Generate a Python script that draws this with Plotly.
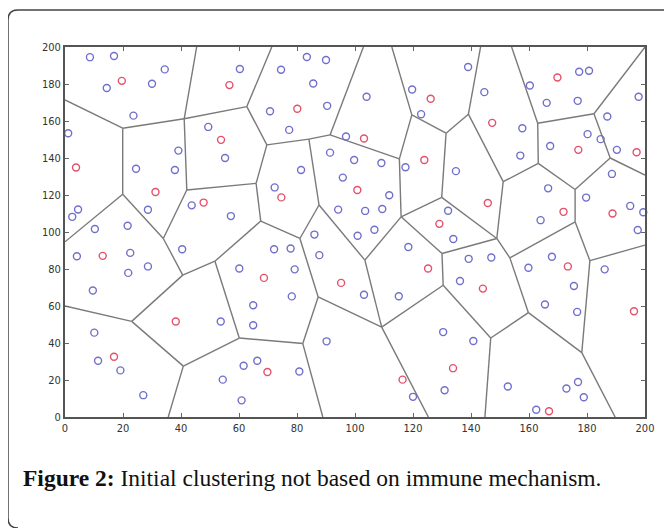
import plotly.graph_objects as go

# ---- data: cluster members (blue) and cluster centres (red) ----
blue_x = [8.6, 16.9, 34.4, 14.4, 30.0, 23.6, 1.1, 39.1, 24.5, 37.9, 4.5, 2.5, 10.3, 21.6, 28.6,
          49.4, 55.2, 43.7, 57.2, 60.3, 74.5, 83.4, 90.0, 85.6, 90.4, 70.7, 77.3, 104.0, 96.9,
          119.7, 122.8, 91.4, 99.7, 109.1, 117.4, 81.4, 72.3, 95.8, 111.8, 94.2, 103.5, 109.4,
          132.1, 86.0, 100.9, 106.7, 139.0, 144.6, 160.3, 166.1, 177.3, 180.7, 176.8, 197.8,
          187.0, 180.2, 184.7, 190.3, 157.7, 157.0, 167.3, 188.6, 166.6, 179.7, 134.8, 164.0,
          194.9, 199.4, 197.5, 4.1, 22.5, 28.6, 21.8, 9.6, 40.4, 60.1, 10.1, 11.4, 19.1, 27.0,
          53.7, 54.4, 61.6, 60.9, 72.1, 77.8, 87.7, 79.2, 78.2, 64.9, 64.9, 103.1, 115.1, 118.4,
          90.2, 66.3, 80.8, 130.4, 130.9, 120.0, 133.9, 139.2, 147.0, 136.2, 159.8, 167.9, 175.5,
          176.6, 165.5, 186.1, 140.8, 152.7, 172.9, 176.9, 178.9, 162.5]
blue_y = [194.5, 195.1, 187.9, 177.8, 180.1, 162.9, 153.4, 144.0, 134.2, 133.5, 112.2, 108.2,
          101.6, 103.4, 112.0, 156.8, 140.0, 114.4, 108.6, 188.1, 187.7, 194.6, 193.0, 180.3,
          168.2, 165.3, 155.2, 173.1, 151.6, 177.0, 163.7, 142.9, 138.9, 137.3, 135.0, 133.5,
          124.1, 129.4, 119.9, 112.1, 111.4, 112.4, 111.5, 98.6, 98.0, 101.2, 189.2, 175.6,
          179.2, 169.8, 186.6, 187.2, 170.9, 173.1, 162.4, 152.9, 150.2, 144.4, 156.1, 141.3,
          146.5, 131.4, 123.6, 118.6, 132.9, 106.4, 114.1, 110.7, 101.1, 86.9, 88.7, 81.4, 77.9,
          68.4, 90.7, 80.3, 45.6, 30.4, 25.2, 11.8, 51.6, 20.2, 27.7, 9.0, 90.7, 91.1, 87.5,
          79.8, 65.2, 60.4, 49.6, 66.1, 65.3, 91.9, 40.9, 30.4, 24.6, 45.9, 14.5, 10.9, 96.2,
          85.5, 86.2, 73.5, 80.7, 86.6, 70.8, 56.8, 60.8, 79.8, 41.1, 16.5, 15.4, 18.9, 10.7, 3.9]

red_x = [19.6, 3.8, 31.2, 47.8, 53.8, 56.7, 80.1, 103.1, 123.9, 100.8, 74.6, 126.1, 129.1, 169.8,
         147.3, 177.0, 197.1, 145.8, 171.9, 188.8, 13.0, 38.2, 16.9, 68.6, 95.2, 125.2, 69.8,
         116.4, 144.1, 173.4, 196.2, 133.8, 166.9]
red_y = [181.7, 134.9, 121.6, 115.9, 149.8, 179.4, 166.6, 150.5, 138.9, 122.7, 118.7, 172.0,
         104.4, 183.5, 159.0, 144.4, 143.1, 115.7, 110.9, 110.0, 87.1, 51.6, 32.6, 75.2, 72.5,
         80.3, 24.3, 20.2, 69.4, 81.4, 57.2, 26.4, 3.1]

# ---- data: Voronoi cell vertices and edges ----
vertex_x = [0, 19.9, 19.9, 41.1, 45.4, 42.0, 33.9, 40.6, 51.7, 60.1, 23.0, 40.8, 0, 0, 35.6,
            62.7, 71.3, 69.6, 65.9, 67.5, 91.4, 102.9, 84.1, 115.3, 87.6, 119.6, 112.7, 115.9,
            81.0, 103.4, 130.0, 87.3, 82.0, 88.9, 109.2, 125.3, 130.4, 131.4, 129.9, 139.1,
            143.3, 151.1, 163.2, 163.0, 154.0, 182.4, 200, 188.0, 200, 175.9, 175.9, 148.9,
            153.4, 181.0, 200, 159.8, 146.8, 144.8, 178.2, 189.7]
vertex_y = [171.4, 156.1, 120.4, 161.2, 200, 122.7, 96.5, 76.7, 84.2, 42.7, 51.7, 27.5, 94.7,
            60.0, 0, 167.8, 200, 147.1, 126.3, 105.9, 152.5, 200, 150.2, 139.5, 114.6, 163.3,
            200, 108.2, 96.5, 84.8, 88.4, 64.9, 39.7, 0, 48.6, 0, 71.2, 153.4, 118.7, 163.7,
            200, 127.2, 137.1, 158.8, 200, 163.9, 200, 140.0, 130.8, 123.0, 105.5, 96.5, 86.0,
            84.5, 92.9, 56.4, 42.7, 0, 34.8, 0]
edges = [(0, 1), (1, 2), (1, 3), (3, 4), (3, 5), (3, 15), (15, 16), (15, 17), (2, 12), (2, 6),
         (5, 6), (5, 18), (6, 7), (7, 8), (7, 10), (10, 13), (10, 11), (11, 14), (11, 9), (9, 8),
         (9, 32), (8, 19), (19, 18), (19, 28), (28, 24), (28, 31), (24, 22), (24, 29), (29, 27),
         (29, 34), (31, 32), (31, 34), (32, 33), (34, 35), (34, 36), (36, 30), (36, 56), (30, 27),
         (30, 51), (27, 23), (27, 38), (23, 20), (23, 25), (20, 21), (20, 22), (22, 17), (17, 18),
         (25, 26), (25, 37), (37, 38), (37, 39), (39, 40), (39, 41), (41, 42), (41, 51), (38, 51),
         (42, 43), (42, 49), (43, 44), (43, 45), (45, 46), (45, 47), (47, 48), (47, 49), (49, 50),
         (50, 52), (50, 53), (53, 54), (53, 58), (51, 52), (52, 55), (55, 56), (55, 58), (56, 57),
         (58, 59)]

tick_vals = [0, 20, 40, 60, 80, 100, 120, 140, 160, 180, 200]
tick_text = [str(v) for v in tick_vals]
caption_bold = "Figure 2:"
caption_text = "Initial clustering not based on immune mechanism."

# ---- build ----
ex, ey = [], []
for a, b in edges:
    ex += [vertex_x[a], vertex_x[b], None]
    ey += [vertex_y[a], vertex_y[b], None]

fig = go.Figure()
fig.add_trace(go.Scatter(x=ex, y=ey, mode="lines", line=dict(color="#7a7a7a", width=1.4),
                         hoverinfo="skip", showlegend=False))
fig.add_trace(go.Scatter(x=blue_x, y=blue_y, mode="markers", cliponaxis=False, showlegend=False,
                         marker=dict(symbol="circle-open", size=7, color="#7070cc",
                                     line=dict(width=1.4))))
fig.add_trace(go.Scatter(x=red_x, y=red_y, mode="markers", cliponaxis=False, showlegend=False,
                         marker=dict(symbol="circle-open", size=7, color="#e4506a",
                                     line=dict(width=1.4))))

OFF = 8  # page body margin
W, H = 672 - OFF, 528 - OFF
L, T = 65 - OFF, 47 - OFF
pw, ph = 580, 370
R, B = W - L - pw, H - T - ph


def px(x):  # page pixel -> paper
    return (x - OFF - L) / pw


def py(y):
    return (T + ph - (y - OFF)) / ph


axis_style = dict(range=[0, 200], tickvals=tick_vals, ticktext=tick_text, showgrid=False,
                  zeroline=False, showline=True, mirror="ticks", linecolor="#555555",
                  linewidth=2, ticks="inside", ticklen=4, tickcolor="#666666", tickwidth=1,
                  tickfont=dict(family="Liberation Sans Narrow, DejaVu Sans Condensed, sans-serif",
                                size=11, color="#333333"))
fig.update_xaxes(**axis_style)
fig.update_yaxes(**axis_style)

frame = (f"M {px(18)},{py(528)} Q {px(8)},{py(528)} {px(8)},{py(518)} "
         f"L {px(8)},{py(20)} Q {px(8)},{py(10)} {px(18)},{py(10)} L {px(672)},{py(10)}")

fig.update_layout(
    width=W, height=H, autosize=False,
    margin=dict(l=L, r=R, t=T, b=B),
    paper_bgcolor="white", plot_bgcolor="white",
    shapes=[dict(type="path", path=frame, xref="paper", yref="paper",
                 line=dict(color="#444444", width=1.5))],
    annotations=[dict(text=f"<b>{caption_bold}</b> {caption_text}", xref="paper", yref="paper",
                      x=px(21), y=py(478), xanchor="left", yanchor="middle", showarrow=False,
                      font=dict(family="Liberation Serif, serif", size=23.5, color="#111111"))],
)

fig.write_html("out.html")
